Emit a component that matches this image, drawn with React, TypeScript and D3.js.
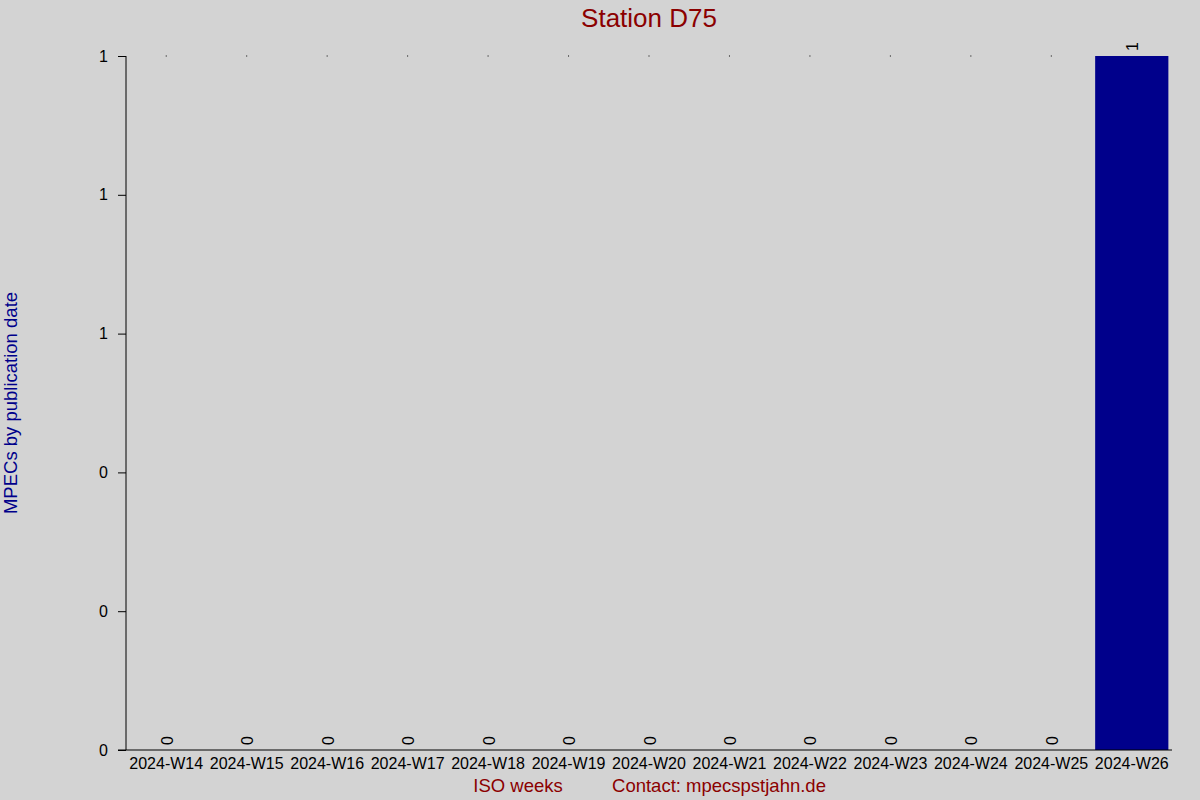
import React, { useEffect, useRef } from 'react';
import * as d3 from 'd3';

const weeks = [
  '2024-W14', '2024-W15', '2024-W16', '2024-W17', '2024-W18', '2024-W19', '2024-W20',
  '2024-W21', '2024-W22', '2024-W23', '2024-W24', '2024-W25', '2024-W26',
];
const counts = [0, 0, 0, 0, 0, 0, 0, 0, 0, 0, 0, 0, 1];
const yTicks = [0, 0.2, 0.4, 0.6, 0.8, 1];

const App = () => {
  const ref = useRef<SVGSVGElement>(null);

  useEffect(() => {
    const width = 1200;
    const height = 800;
    const margin = { top: 56, right: 28, bottom: 50, left: 126 };
    const font = 'Liberation Sans, Arial, sans-serif';

    const svg = d3.select(ref.current);
    svg.selectAll('*').remove();

    svg.append('rect').attr('width', width).attr('height', height).attr('fill', '#d3d3d3');

    const x = d3.scaleBand()
      .domain(weeks)
      .range([margin.left, width - margin.right])
      .paddingInner(0.09)
      .paddingOuter(0.045);

    const y = d3.scaleLinear()
      .domain([0, 1])
      .range([height - margin.bottom, margin.top]);

    const data = weeks.map((w, i) => ({ week: w, value: counts[i] }));

    // bars
    svg.append('g')
      .selectAll('rect')
      .data(data)
      .enter()
      .append('rect')
      .attr('x', d => x(d.week)!)
      .attr('y', d => y(d.value))
      .attr('width', x.bandwidth())
      .attr('height', d => y(0) - y(d.value))
      .attr('fill', '#00008b');

    // little dots at the top for empty weeks (as in the original)
    svg.append('g')
      .selectAll('rect')
      .data(data.filter(d => d.value === 0))
      .enter()
      .append('rect')
      .attr('x', d => x(d.week)! + x.bandwidth() / 2 - 0.5)
      .attr('y', y(1) - 0.5)
      .attr('width', 1)
      .attr('height', 1)
      .attr('fill', '#000');

    // value labels
    svg.append('g')
      .selectAll('text')
      .data(data)
      .enter()
      .append('text')
      .attr('transform', d => `translate(${x(d.week)! + x.bandwidth() / 2 + 1}, ${y(d.value) - 5}) rotate(-90)`)
      .attr('dominant-baseline', 'central')
      .attr('text-anchor', 'start')
      .attr('font-family', font)
      .attr('font-size', 16)
      .attr('fill', '#000')
      .text(d => d.value);

    // axes
    const yAxis = svg.append('g')
      .attr('transform', `translate(${margin.left},0)`)
      .call(d3.axisLeft(y).tickValues(yTicks).tickSize(8).tickPadding(10).tickFormat(d => d3.format('.0f')(+d)));
    yAxis.select('.domain').attr('stroke', '#000').attr('d', `M0,${y(1)}V${y(0)}`);
    yAxis.selectAll('text').attr('font-family', font).attr('font-size', 16).attr('fill', '#000');

    const xAxis = svg.append('g')
      .attr('transform', `translate(0,${height - margin.bottom})`)
      .call(d3.axisBottom(x).tickSize(0).tickPadding(8));
    xAxis.select('.domain').attr('stroke', '#000').attr('d', `M${margin.left - 8},0H${width - margin.right}`);
    xAxis.selectAll('text').attr('font-family', font).attr('font-size', 16).attr('fill', '#000');

    // title and labels
    svg.append('text')
      .attr('x', 649)
      .attr('y', 27)
      .attr('text-anchor', 'middle')
      .attr('font-family', font)
      .attr('font-size', 26)
      .attr('fill', '#8b0000')
      .text('Station D75');

    svg.append('text')
      .attr('transform', `translate(17, 403) rotate(-90)`)
      .attr('text-anchor', 'middle')
      .attr('font-family', font)
      .attr('font-size', 18.5)
      .attr('fill', '#00008b')
      .text('MPECs by publication date');

    svg.append('text')
      .attr('x', 518)
      .attr('y', 792)
      .attr('text-anchor', 'middle')
      .attr('font-family', font)
      .attr('font-size', 18.5)
      .attr('fill', '#8b0000')
      .text('ISO weeks');

    svg.append('text')
      .attr('x', 719)
      .attr('y', 792)
      .attr('text-anchor', 'middle')
      .attr('font-family', font)
      .attr('font-size', 18.5)
      .attr('fill', '#8b0000')
      .text('Contact: mpecspstjahn.de');
  }, []);

  return (
    <svg ref={ref} width={1200} height={800} style={{ display: 'block', position: 'absolute', left: 0, top: 0 }} />
  );
};

export default App;
